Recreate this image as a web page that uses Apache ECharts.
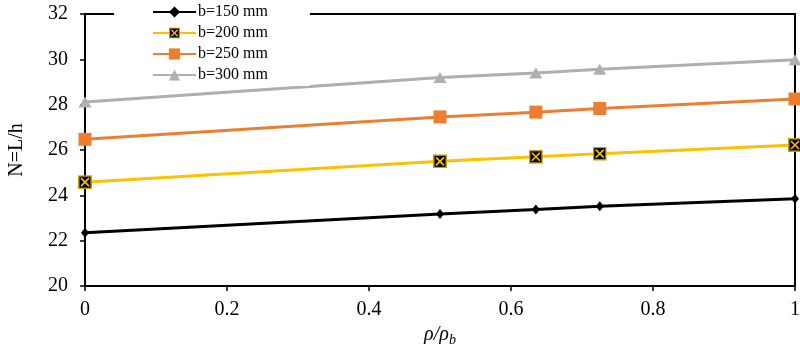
<!DOCTYPE html>
<html><head><meta charset="utf-8">
<script src="https://cdn.jsdelivr.net/npm/echarts@6/dist/echarts.min.js"></script>
<style>html,body{margin:0;padding:0;background:#fff}#c{width:800px;height:344px}</style>
</head><body><div id="c"></div>
<script>
var xValues = [0, 0.5, 0.635, 0.725, 1];
var names = ['b=150 mm', 'b=200 mm', 'b=250 mm', 'b=300 mm'];
var b150 = [22.35, 23.18, 23.37, 23.52, 23.85];
var b200 = [24.58, 25.5, 25.7, 25.84, 26.22];
var b250 = [26.47, 27.46, 27.67, 27.83, 28.25];
var b300 = [28.12, 29.2, 29.4, 29.56, 29.98];
var yTicks = [20, 22, 24, 26, 28, 30, 32];
var xTicks = [0, 0.2, 0.4, 0.6, 0.8, 1];

function pairs(v){ return xValues.map(function(x,i){return [x, v[i]];}); }
var xSvg = 'image://data:image/svg+xml;utf8,' + encodeURIComponent(
  '<svg xmlns="http://www.w3.org/2000/svg" width="14" height="14" viewBox="0 0 14 14">' +
  '<rect x="0.75" y="0.75" width="12.5" height="12.5" fill="#000" stroke="#c9a000" stroke-width="1.5"/>' +
  '<path d="M3 3 L11 11 M11 3 L3 11" stroke="#FFC000" stroke-width="1.6"/></svg>');

var font = '"Liberation Serif", "Times New Roman", serif';
var chart = echarts.init(document.getElementById('c'), null, {renderer:'canvas'});
chart.setOption({
  animation:false,
  backgroundColor:'#fff',
  grid:{left:85, right:5, top:14, bottom:58, containLabel:false, outerBoundsMode:'none',
        show:true, borderColor:'#000', borderWidth:2, backgroundColor:'transparent'},
  legend:{
    orient:'vertical', left:114, top:1, itemGap:5, itemWidth:43, itemHeight:14,
    backgroundColor:'#fff', padding:[3,42,3,38],
    textStyle:{fontFamily:font, fontSize:16, color:'#000', padding:[0,0,0,-3]},
    data:names
  },
  xAxis:{
    type:'value', min:0, max:1, interval:0.2,
    name:'{i|ρ/ρ}{s|b}', nameLocation:'middle', nameGap:26,
    nameTextStyle:{rich:{i:{fontFamily:font, fontStyle:'italic', fontSize:20, color:'#000'}, s:{fontFamily:font, fontStyle:'italic', fontSize:14, color:'#000', verticalAlign:'bottom', padding:[10,0,0,0]}}},
    axisLine:{lineStyle:{color:'#000', width:2}},
    axisTick:{show:true, length:5, lineStyle:{color:'#000', width:1.5}},
    axisLabel:{fontFamily:font, fontSize:20, color:'#000', margin:14, formatter:function(v){return String(Math.round(v*10)/10);}},
    splitLine:{show:false}
  },
  yAxis:{
    type:'value', min:20, max:32, interval:2,
    name:'N=L/h', nameLocation:'middle', nameGap:58,
    nameTextStyle:{fontFamily:font, fontSize:20, color:'#000'},
    axisLine:{show:true, lineStyle:{color:'#000', width:2}},
    axisTick:{show:true, length:5, lineStyle:{color:'#000', width:1.5}},
    axisLabel:{fontFamily:font, fontSize:20, color:'#000', margin:17},
    splitLine:{show:false}
  },
  series:[
    {name:names[0], type:'line', data:pairs(b150), symbol:'diamond', symbolSize:[8,10], showAllSymbol:true,
     lineStyle:{color:'#000', width:3}, itemStyle:{color:'#000'}},
    {name:names[1], type:'line', data:pairs(b200), symbol:xSvg, symbolSize:14,
     lineStyle:{color:'#FFC000', width:3}, itemStyle:{color:'#FFC000'}},
    {name:names[2], type:'line', data:pairs(b250), symbol:'rect', symbolSize:13,
     lineStyle:{color:'#ED7D31', width:3}, itemStyle:{color:'#ED7D31'}},
    {name:names[3], type:'line', data:pairs(b300), symbol:'triangle', symbolSize:[13,11],
     lineStyle:{color:'#AFAFAF', width:3}, itemStyle:{color:'#AFAFAF'}}
  ]
});
</script></body></html>
